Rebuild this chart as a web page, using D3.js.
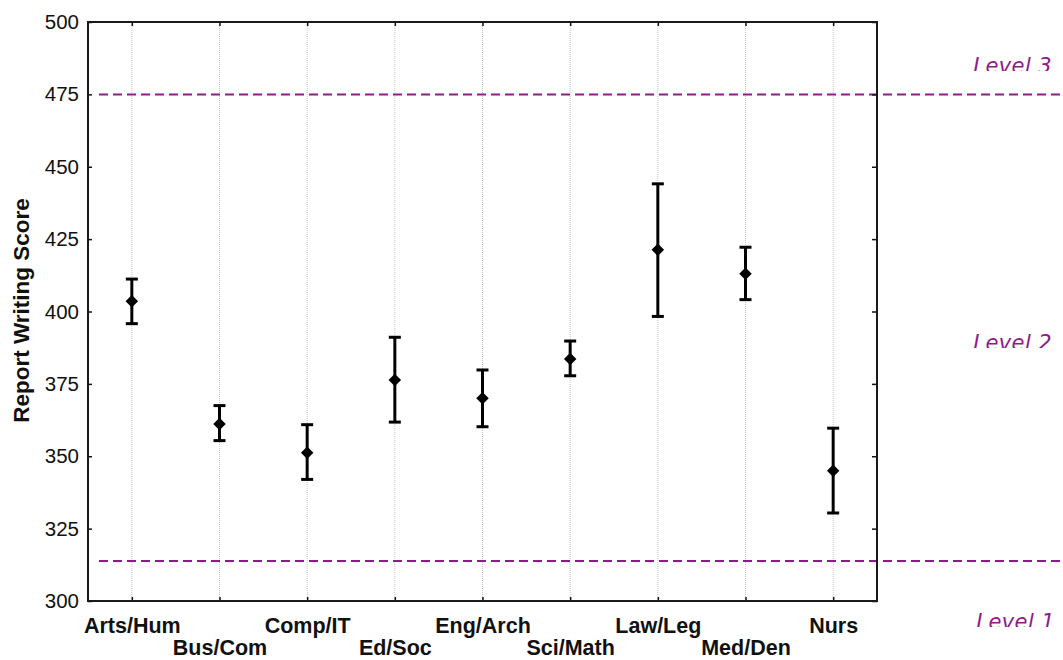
<!DOCTYPE html>
<html>
<head>
<meta charset="utf-8">
<script src="https://cdn.jsdelivr.net/npm/d3@7"></script>
<style>
  body { margin: 0; background: #fff; }
  svg { display: block; font-family: Arial, "Liberation Sans", sans-serif; }
</style>
</head>
<body>
<svg id="chart" width="1063" height="660"></svg>
<script>
// Faculty groups and their report writing score (mean with error bar)
var categories = ['Arts/Hum', 'Bus/Com', 'Comp/IT', 'Ed/Soc', 'Eng/Arch', 'Sci/Math', 'Law/Leg', 'Med/Den', 'Nurs'];
var means = [403.5, 361.1, 351.2, 376.3, 370.0, 383.6, 421.3, 413.0, 345.0];
var lower = [395.8, 355.4, 342.0, 361.8, 360.2, 377.8, 398.3, 404.1, 330.4];
var upper = [411.2, 367.5, 360.9, 391.1, 379.8, 389.8, 444.1, 422.2, 359.7];
var yTicks = [300, 325, 350, 375, 400, 425, 450, 475, 500];

// Proficiency level cut scores and labels
var levelNames = ['Level 3', 'Level 2', 'Level 1'];
var levelCuts = [475, 313.8];

var svg = d3.select('#chart');
var W = 1063, H = 660;
// plot box (window.top is reserved, so use a margin object)
var box = {left: 88, right: 877, top: 22, bottom: 601};
var purple = '#8e1a8c';

var x = d3.scalePoint().domain(categories).range([box.left, box.right]).padding(0.5);
var y = d3.scaleLinear().domain([300, 500]).range([box.bottom, box.top]);

var rows = categories.map(function (c, i) {
  return {cat: c, mean: means[i], lo: lower[i], hi: upper[i]};
});

// dotted vertical grid
svg.append('g')
  .selectAll('line')
  .data(categories)
  .join('line')
    .attr('x1', function (d) { return x(d); })
    .attr('x2', function (d) { return x(d); })
    .attr('y1', box.top)
    .attr('y2', box.bottom)
    .attr('stroke', '#c4c4c4')
    .attr('stroke-width', 1)
    .attr('stroke-dasharray', '1,1');

// level cut lines run past the plot to the page edge
svg.append('g')
  .selectAll('line')
  .data(levelCuts)
  .join('line')
    .attr('x1', 99)
    .attr('x2', W)
    .attr('y1', function (d) { return y(d); })
    .attr('y2', function (d) { return y(d); })
    .attr('stroke', purple)
    .attr('stroke-width', 2)
    .attr('stroke-dasharray', '9,5');

// axes, ticks pointing inward
var axisStyle = function (g) {
  g.select('.domain').remove();
  g.selectAll('.tick line').attr('stroke', '#111').attr('stroke-width', 1.5);
};

svg.append('g')
  .attr('transform', `translate(${box.left},0)`)
  .call(d3.axisLeft(y).tickValues(yTicks).tickSize(-4).tickPadding(9))
  .call(axisStyle)
  .call(function (g) {
    g.selectAll('.tick text').attr('font-size', 20.5).attr('fill', '#111');
  });

svg.append('g')
  .attr('transform', `translate(${box.right},0)`)
  .call(d3.axisRight(y).tickValues(yTicks).tickSize(-5).tickFormat(''))
  .call(axisStyle);

svg.append('g')
  .attr('transform', `translate(0,${box.top})`)
  .call(d3.axisTop(x).tickSize(-4).tickFormat(''))
  .call(axisStyle);

svg.append('g')
  .attr('transform', `translate(0,${box.bottom})`)
  .call(d3.axisBottom(x).tickSize(-4).tickPadding(0))
  .call(axisStyle)
  .call(function (g) {
    g.selectAll('.tick text')
      .attr('font-size', 21.5)
      .attr('font-weight', 'bold')
      .attr('fill', '#111')
      .attr('dy', null)
      .attr('y', function (d, i) { return i % 2 ? 54 : 32; });
  });

// frame
svg.append('rect')
  .attr('x', box.left)
  .attr('y', box.top)
  .attr('width', box.right - box.left)
  .attr('height', box.bottom - box.top)
  .attr('fill', 'none')
  .attr('stroke', '#1a1a1a')
  .attr('stroke-width', 2);

// y title
svg.append('text')
  .attr('transform', `translate(29,${(box.top + box.bottom) / 2 - 1}) rotate(-90)`)
  .attr('text-anchor', 'middle')
  .attr('font-size', 22.5)
  .attr('font-weight', 'bold')
  .attr('fill', '#111')
  .text('Report Writing Score');

// error bars
var capW = 6;
var bars = svg.append('g')
  .selectAll('g')
  .data(rows)
  .join('g')
    .attr('stroke', '#000')
    .attr('stroke-width', 3);

bars.append('line')
  .attr('x1', function (d) { return x(d.cat); })
  .attr('x2', function (d) { return x(d.cat); })
  .attr('y1', function (d) { return y(d.lo); })
  .attr('y2', function (d) { return y(d.hi); });

bars.selectAll('.cap')
  .data(function (d) { return [[d.cat, d.lo], [d.cat, d.hi]]; })
  .join('line')
    .attr('class', 'cap')
    .attr('x1', function (d) { return x(d[0]) - capW; })
    .attr('x2', function (d) { return x(d[0]) + capW; })
    .attr('y1', function (d) { return y(d[1]); })
    .attr('y2', function (d) { return y(d[1]); });

// diamond markers
svg.append('g')
  .selectAll('path')
  .data(rows)
  .join('path')
    .attr('transform', function (d) { return `translate(${x(d.cat)},${y(d.mean)}) rotate(45)`; })
    .attr('d', d3.symbol(d3.symbolSquare, 78))
    .attr('fill', '#000');

// level labels, bottoms cut off as in the source
var labelBase = [73, 350, 629];
var defs = svg.append('defs');
labelBase.forEach(function (b, i) {
  defs.append('clipPath')
    .attr('id', 'lvl' + i)
    .append('rect')
      .attr('x', 900)
      .attr('y', b - 40)
      .attr('width', 200)
      .attr('height', 38);
});

svg.append('g')
  .selectAll('text')
  .data(levelNames)
  .join('text')
    .attr('clip-path', function (d, i) { return `url(#lvl${i})`; })
    .attr('x', function (d, i) { return i === 2 ? 1055 : 1052; })
    .attr('y', function (d, i) { return labelBase[i]; })
    .attr('text-anchor', 'end')
    .attr('font-family', '"DejaVu Sans", sans-serif')
    .attr('font-style', 'italic')
    .attr('font-size', 21)
    .attr('letter-spacing', 0.4)
    .attr('fill', purple)
    .text(function (d) { return d; });
</script>
</body>
</html>
